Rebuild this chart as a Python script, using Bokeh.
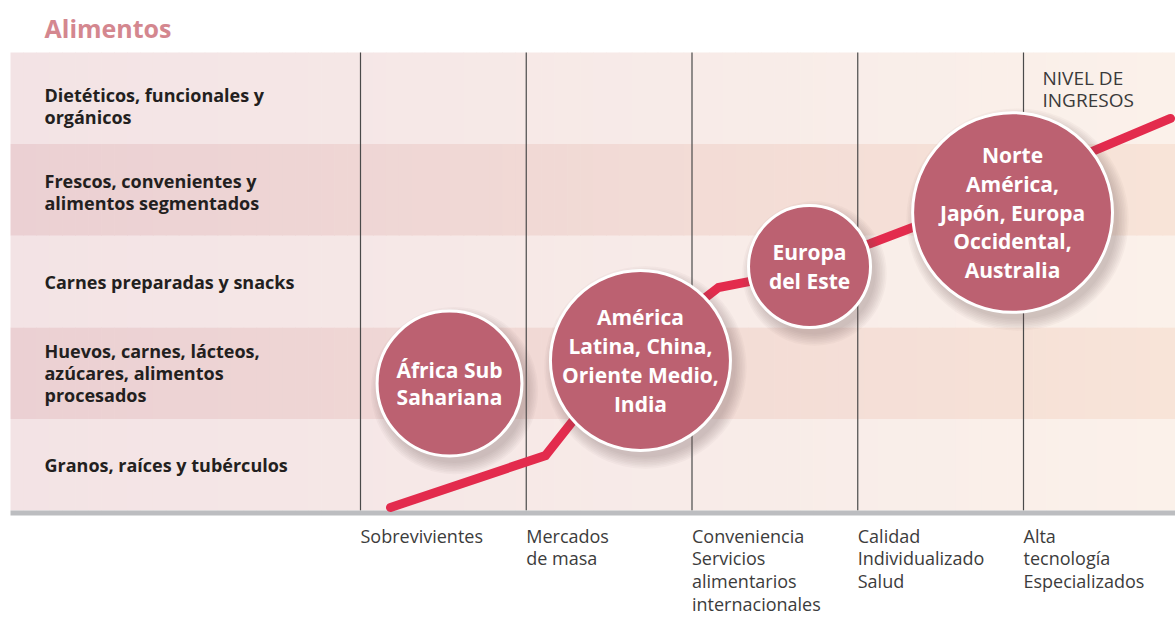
import numpy as np
from bokeh.plotting import figure
from bokeh.models import Range1d
from bokeh.core.properties import value
from bokeh.embed import file_html
from bokeh.resources import INLINE

# ---------------- data ----------------
title_text = "Alimentos"
note_text = "NIVEL DE\nINGRESOS"

stage_labels = [
    "Sobrevivientes",
    "Mercados\nde masa",
    "Conveniencia\nServicios\nalimentarios\ninternacionales",
    "Calidad\nIndividualizado\nSalud",
    "Alta\ntecnología\nEspecializados",
]
stage_pos = [0, 1, 2, 3, 4]

# food categories, bottom row first
food_labels = [
    "Granos, raíces y tubérculos",
    "Huevos, carnes, lácteos,\nazúcares, alimentos\nprocesados",
    "Carnes preparadas y snacks",
    "Frescos, convenientes y\nalimentos segmentados",
    "Dietéticos, funcionales y\norgánicos",
]
food_rows = [0, 1, 2, 3, 4]

region_labels = [
    "África Sub\nSahariana",
    "América\nLatina, China,\nOriente Medio,\nIndia",
    "Europa\ndel Este",
    "Norte\nAmérica,\nJapón, Europa\nOccidental,\nAustralia",
]
region_stage = [0.537, 1.689, 2.709, 3.934]   # position on the stage axis
region_row = [1.386, 1.638, 2.664, 3.253]     # position on the food axis
region_radius = [0.437, 0.543, 0.368, 0.603]  # in stage units

path_stage = [0.181, 1.116, 1.569, 2.081, 2.160, 2.413, 3.077, 3.330, 4.887]
path_row = [0.033, 0.600, 1.638, 2.325, 2.434, 2.522, 2.915, 3.090, 4.280]

# ---------------- geometry (page px) ----------------
W, H = 1175, 618
DX, DY = 165.75, 91.6
PX0, PY0 = 360, 510


def ux(px):
    return (px - PX0) / DX


def uy(py):
    return (PY0 - py) / DY


p = figure(width=W, height=H, output_backend="svg", toolbar_location=None,
           x_range=Range1d(ux(0), ux(W)), y_range=Range1d(uy(H), uy(0)),
           min_border=0, outline_line_color=None, background_fill_color="white",
           border_fill_color="white")
p.axis.visible = False
p.grid.visible = False

# ---------------- background bands with horizontal gradient ----------------
left_light, left_dark = np.array([0xf3, 0xe3, 0xe5]), np.array([0xeb, 0xd0, 0xd3])
right_light, right_dark = np.array([0xfb, 0xf1, 0xea]), np.array([0xf8, 0xe4, 0xd8])
xl, xr = ux(10), ux(1175)
N = 90
edges = np.linspace(xl, xr, N + 1)
qx0, qx1, qy0, qy1, qc = [], [], [], [], []
for row in food_rows:
    dark = row % 2 == 1
    c0 = left_dark if dark else left_light
    c1 = right_dark if dark else right_light
    for i in range(N):
        t = (i + 0.5) / N
        c = (c0 * (1 - t) + c1 * t).round().astype(int)
        qx0.append(edges[i])
        qx1.append(min(edges[i + 1] + 0.004, xr))
        qy0.append(row)
        qy1.append(row + 1)
        qc.append("#%02x%02x%02x" % tuple(c))
p.quad(left=qx0, right=qx1, bottom=qy0, top=qy1, fill_color=qc, line_color=None)

# vertical stage lines
p.segment(x0=stage_pos, x1=stage_pos, y0=[0] * 5, y1=[5] * 5,
          line_color="#4a4a4a", line_width=1.2)

# bottom grey bar
p.quad(left=[xl], right=[xr], top=[0], bottom=[uy(515)],
       fill_color="#bcbdc0", line_color=None)

# red income path
p.line(path_stage, path_row, line_color="#e32b4d", line_width=9,
       line_cap="round", line_join="miter")

# bubble shadows
for k in range(8):
    p.circle([x + 5 / DX for x in region_stage], [y - 7 / DY for y in region_row],
             radius=[r + (k * 1.6) / DX for r in region_radius],
             fill_color="#6e5a5c", fill_alpha=0.045, line_color=None)

# bubbles
p.circle(region_stage, region_row, radius=region_radius,
         fill_color="#bc6171", line_color="white", line_width=3)

p.text(region_stage[1:], region_row[1:], text=region_labels[1:], text_align="center",
       text_baseline="middle", text_color="white", text_font=value("Open Sans"),
       text_font_style="bold", text_font_size="21px", text_line_height=1.03)
p.text(region_stage[:1], region_row[:1], text=region_labels[:1], text_align="center",
       text_baseline="middle", text_color="white", text_font=value("Open Sans"),
       text_font_style="bold", text_font_size="21px", text_line_height=0.95)

# food category labels (top label sits a little lower in its band)
label_shift = [0, 0, 0, -0.02, -0.087]
p.text([ux(44)] * 5, [r + 0.5 + s for r, s in zip(food_rows, label_shift)],
       text=food_labels, text_align="left", text_baseline="middle",
       text_color="#231f20", text_font=value("Open Sans"), text_font_style="bold",
       text_font_size="18px", text_line_height=0.93)

# stage labels below
p.text(stage_pos, [uy(523)] * 5, text=stage_labels, text_align="left",
       text_baseline="top", text_color="#3c3c3c", text_font=value("Open Sans"),
       text_font_size="18px", text_line_height=0.955)

# title
p.text([ux(44)], [uy(27)], text=[title_text], text_align="left",
       text_baseline="middle", text_color="#d4878f", text_font=value("Open Sans"),
       text_font_style="bold", text_font_size="25px")

# income note
p.text([ux(1042)], [uy(64)], text=[note_text], text_align="left",
       text_baseline="top", text_color="#3a3a3a", text_font=value("Open Sans"),
       text_font_size="19px", text_line_height=0.85)

open("out.html", "w").write(file_html(p, INLINE))
